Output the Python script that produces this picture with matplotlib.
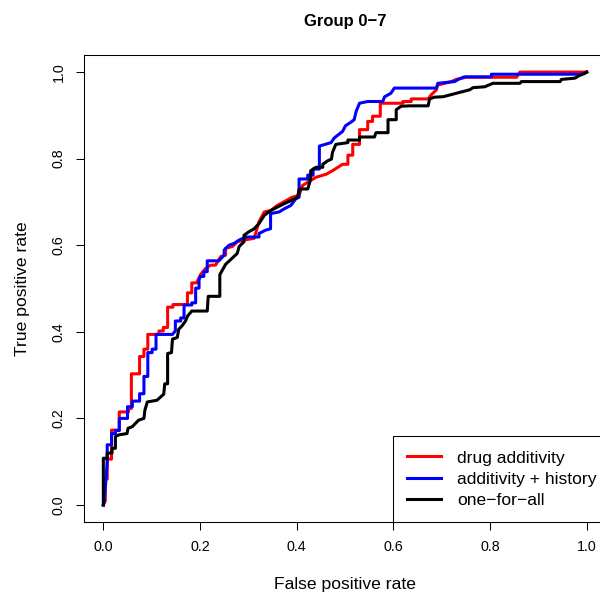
import numpy as np
import matplotlib
matplotlib.use("Agg")
import matplotlib.pyplot as plt

plt.rcParams['font.family'] = ['Liberation Sans', 'DejaVu Sans']

# ROC curve vertices (false positive rate, true positive rate)
drug_fpr = [0.0, 0.004, 0.004, 0.008, 0.008, 0.017, 0.017, 0.033, 0.033, 0.052, 0.052, 0.058, 0.058,
            0.075, 0.075, 0.084, 0.084, 0.092, 0.092, 0.115, 0.115, 0.124, 0.124, 0.133, 0.133, 0.144,
            0.144, 0.174, 0.174, 0.183, 0.183, 0.193, 0.201, 0.212, 0.222, 0.232, 0.243, 0.253, 0.253,
            0.267, 0.277, 0.291, 0.312, 0.315, 0.322, 0.333, 0.346, 0.360, 0.378, 0.391, 0.405, 0.412,
            0.440, 0.461, 0.474, 0.495, 0.506, 0.506, 0.516, 0.516, 0.530, 0.530, 0.547, 0.547, 0.557,
            0.557, 0.573, 0.573, 0.620, 0.620, 0.637, 0.637, 0.672, 0.678, 0.689, 0.692, 0.720, 0.730,
            0.751, 0.848, 0.855, 0.862, 1.0]
drug_tpr = [0.0, 0.009, 0.060, 0.060, 0.106, 0.106, 0.173, 0.173, 0.215, 0.215, 0.223, 0.223, 0.303,
            0.303, 0.343, 0.343, 0.360, 0.360, 0.394, 0.394, 0.402, 0.402, 0.410, 0.410, 0.457, 0.457,
            0.463, 0.463, 0.490, 0.490, 0.513, 0.513, 0.532, 0.547, 0.554, 0.554, 0.574, 0.577, 0.593,
            0.597, 0.608, 0.612, 0.616, 0.627, 0.654, 0.677, 0.680, 0.692, 0.703, 0.711, 0.715, 0.738,
            0.757, 0.764, 0.772, 0.787, 0.787, 0.808, 0.808, 0.833, 0.833, 0.867, 0.867, 0.886, 0.886,
            0.898, 0.898, 0.928, 0.928, 0.932, 0.932, 0.938, 0.938, 0.947, 0.959, 0.970, 0.978, 0.983,
            0.988, 0.988, 0.988, 1.0, 1.0]

hist_fpr = [0.0, 0.002, 0.008, 0.008, 0.017, 0.017, 0.025, 0.025, 0.033, 0.033, 0.050, 0.050, 0.060,
            0.060, 0.075, 0.075, 0.084, 0.084, 0.092, 0.092, 0.101, 0.101, 0.109, 0.109, 0.143, 0.149,
            0.149, 0.160, 0.160, 0.167, 0.167, 0.183, 0.183, 0.191, 0.191, 0.198, 0.198, 0.201, 0.208,
            0.208, 0.215, 0.215, 0.239, 0.250, 0.250, 0.260, 0.270, 0.281, 0.295, 0.322, 0.322, 0.336,
            0.346, 0.346, 0.364, 0.374, 0.388, 0.398, 0.405, 0.405, 0.423, 0.423, 0.434, 0.434, 0.447,
            0.447, 0.471, 0.478, 0.495, 0.501, 0.512, 0.519, 0.523, 0.530, 0.547, 0.578, 0.582, 0.595,
            0.602, 0.689, 0.692, 0.727, 0.734, 0.747, 0.803, 0.803, 0.99, 1.0]
hist_tpr = [0.0, 0.01, 0.097, 0.139, 0.139, 0.165, 0.165, 0.172, 0.172, 0.200, 0.200, 0.227, 0.227,
            0.240, 0.240, 0.257, 0.257, 0.297, 0.297, 0.352, 0.352, 0.360, 0.360, 0.394, 0.394, 0.402,
            0.425, 0.425, 0.432, 0.432, 0.462, 0.462, 0.467, 0.467, 0.501, 0.501, 0.520, 0.528, 0.528,
            0.539, 0.539, 0.564, 0.564, 0.577, 0.589, 0.600, 0.604, 0.612, 0.619, 0.619, 0.627, 0.635,
            0.638, 0.673, 0.677, 0.684, 0.692, 0.707, 0.711, 0.753, 0.753, 0.762, 0.762, 0.776, 0.776,
            0.829, 0.837, 0.848, 0.863, 0.876, 0.884, 0.890, 0.909, 0.928, 0.932, 0.932, 0.943, 0.951,
            0.963, 0.963, 0.974, 0.978, 0.983, 0.989, 0.989, 0.995, 0.995, 1.0]

all_fpr = [0.0, 0.0, 0.008, 0.008, 0.018, 0.018, 0.025, 0.025, 0.032, 0.049, 0.051, 0.060, 0.066,
           0.073, 0.084, 0.086, 0.091, 0.111, 0.118, 0.125, 0.127, 0.133, 0.133, 0.141, 0.143, 0.153,
           0.156, 0.163, 0.170, 0.174, 0.183, 0.215, 0.217, 0.241, 0.241, 0.253, 0.277, 0.281, 0.291,
           0.291, 0.301, 0.312, 0.322, 0.333, 0.346, 0.360, 0.374, 0.388, 0.402, 0.405, 0.423, 0.429,
           0.429, 0.440, 0.454, 0.454, 0.464, 0.472, 0.474, 0.481, 0.506, 0.506, 0.530, 0.530, 0.561,
           0.564, 0.589, 0.589, 0.606, 0.606, 0.616, 0.633, 0.672, 0.675, 0.685, 0.703, 0.737, 0.758,
           0.765, 0.789, 0.806, 0.862, 0.865, 0.945, 0.948, 0.976, 0.983, 0.996, 1.0]
all_tpr = [0.0, 0.108, 0.108, 0.120, 0.120, 0.131, 0.131, 0.158, 0.162, 0.165, 0.177, 0.181, 0.188,
           0.196, 0.200, 0.219, 0.238, 0.242, 0.249, 0.256, 0.280, 0.280, 0.350, 0.352, 0.383, 0.387,
           0.406, 0.414, 0.425, 0.436, 0.448, 0.448, 0.482, 0.482, 0.532, 0.556, 0.581, 0.597, 0.608,
           0.623, 0.631, 0.638, 0.650, 0.669, 0.680, 0.688, 0.696, 0.703, 0.711, 0.730, 0.730, 0.753,
           0.772, 0.780, 0.780, 0.787, 0.795, 0.799, 0.814, 0.833, 0.837, 0.843, 0.843, 0.850, 0.850,
           0.860, 0.860, 0.890, 0.890, 0.913, 0.921, 0.922, 0.922, 0.938, 0.942, 0.943, 0.953, 0.959,
           0.964, 0.966, 0.974, 0.974, 0.978, 0.978, 0.983, 0.986, 0.991, 0.997, 1.0]

labels = ["drug additivity", "additivity + history", "one\u2212for\u2212all"]
colors = ["#FF0000", "#0000FF", "#000000"]
ticks = [0.0, 0.2, 0.4, 0.6, 0.8, 1.0]

fig = plt.figure(figsize=(6.0, 5.97), dpi=100)
ax = fig.add_axes([0.14, 0.1251, 0.87, 0.7832])

lw = 2.2
ax.plot(drug_fpr, drug_tpr, color=colors[0], lw=lw, label=labels[0])
ax.plot(hist_fpr, hist_tpr, color=colors[1], lw=lw, label=labels[1])
ax.plot(all_fpr, all_tpr, color=colors[2], lw=lw, label=labels[2])

ax.set_xlim(-0.04, 1.04)
ax.set_ylim(-0.04, 1.04)
ax.set_xticks(ticks)
ax.set_yticks(ticks)
ax.set_xticklabels([f"{t:.1f}" for t in ticks])
ax.set_yticklabels([f"{t:.1f}" for t in ticks], rotation=90, va='center')
ax.tick_params(direction='out', length=5.5, width=0.75, labelsize=10.3, pad=7.5)
for s in ax.spines.values():
    s.set_linewidth(0.75)

ax.set_xlabel("False positive rate", fontsize=12.6)
ax.set_ylabel("True positive rate", fontsize=12.6)
ax.xaxis.set_label_coords(0.5, -0.118)
ax.yaxis.set_label_coords(-0.103, 0.5)
ax.set_title("Group 0\u22127", fontsize=12, fontweight='bold', pad=21)

leg = ax.legend(loc='lower left', bbox_to_anchor=(0.5914, 0.0), borderaxespad=0,
                fancybox=False, edgecolor='black', framealpha=1, fontsize=12.6,
                handlelength=1.97, handletextpad=0.89, borderpad=0.8, labelspacing=0.35)
leg.get_frame().set_linewidth(0.75)

fig.savefig("out.png", dpi=100)
